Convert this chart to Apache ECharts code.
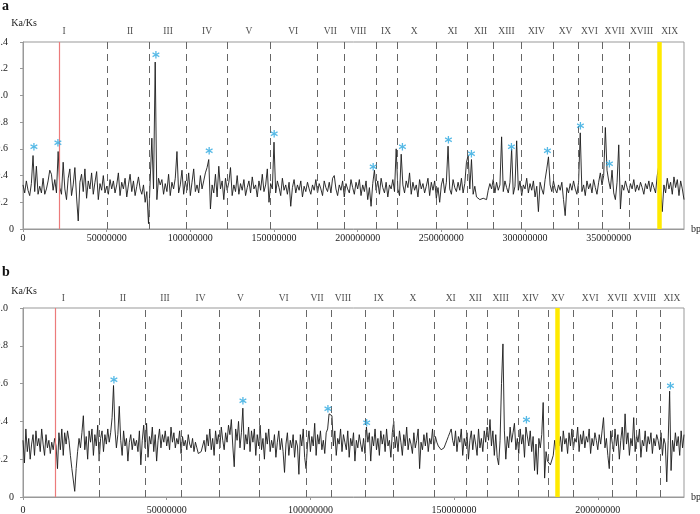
<!DOCTYPE html>
<html><head><meta charset="utf-8">
<script src="https://cdn.jsdelivr.net/npm/echarts@6/dist/echarts.min.js"></script>
<style>html,body{margin:0;padding:0;background:#fff}#c{width:700px;height:514px}</style>
</head><body><div id="c"></div>
<script>
// ---------- DATA ----------
// Panel a: Ka/Ks per 1 Mbp window (window start in Mbp = index)
const WINDOW_A_MBP = 1;
const kaksA = [
0.33,0.27,0.36,0.29,0.25,0.34,0.55,0.28,0.47,0.26,
0.32,0.27,0.38,0.26,0.30,0.36,0.44,0.41,0.29,0.37,
0.27,0.58,0.31,0.26,0.50,0.30,0.22,0.38,0.45,0.25,
0.33,0.46,0.24,0.06,0.35,0.41,0.28,0.45,0.23,0.36,
0.30,0.42,0.26,0.35,0.43,0.22,0.34,0.29,0.40,0.27,
0.32,0.26,0.37,0.30,0.36,0.27,0.33,0.42,0.25,0.35,
0.30,0.38,0.24,0.33,0.41,0.28,0.36,0.25,0.32,0.39,
0.30,0.26,0.33,0.20,0.28,0.04,0.36,0.68,0.30,1.25,
0.22,0.38,0.33,0.37,0.26,0.34,0.28,0.41,0.25,0.35,
0.30,0.38,0.58,0.27,0.33,0.44,0.26,0.36,0.29,0.42,
0.25,0.35,0.45,0.28,0.33,0.27,0.40,0.30,0.36,0.42,
0.46,0.52,0.15,0.33,0.27,0.41,0.24,0.47,0.30,0.36,
0.22,0.38,0.29,0.35,0.46,0.25,0.33,0.28,0.40,0.26,
0.34,0.29,0.37,0.25,0.31,0.36,0.27,0.39,0.30,0.33,
0.24,0.36,0.29,0.41,0.28,0.33,0.45,0.20,0.34,0.30,
0.65,0.27,0.36,0.31,0.25,0.38,0.29,0.33,0.26,0.35,
0.17,0.31,0.37,0.27,0.33,0.29,0.36,0.24,0.32,0.28,
0.35,0.30,0.26,0.33,0.29,0.37,0.27,0.34,0.30,0.25,
0.36,0.31,0.28,0.35,0.27,0.38,0.40,0.30,0.25,0.33,
0.29,0.36,0.24,0.34,0.30,0.27,0.37,0.31,0.26,0.35,
0.30,0.37,0.25,0.33,0.28,0.36,0.22,0.31,0.17,0.34,
0.44,0.29,0.36,0.26,0.38,0.31,0.27,0.35,0.24,0.33,
0.30,0.37,0.28,0.60,0.30,0.25,0.56,0.33,0.27,0.36,
0.31,0.42,0.26,0.35,0.29,0.33,0.24,0.37,0.30,0.34,
0.27,0.32,0.38,0.25,0.35,0.29,0.36,0.23,0.31,0.20,
0.33,0.38,0.27,0.35,0.62,0.30,0.26,0.37,0.31,0.28,
0.35,0.29,0.38,0.27,0.34,0.50,0.55,0.30,0.52,0.26,
0.32,0.24,0.23,0.22,0.22,0.23,0.24,0.22,0.29,0.34,
0.30,0.37,0.27,0.35,0.29,0.33,0.69,0.28,0.36,0.31,
0.27,0.35,0.60,0.26,0.32,0.66,0.29,0.36,0.25,0.33,
0.30,0.38,0.27,0.34,0.29,0.36,0.24,0.32,0.13,0.35,
0.30,0.26,0.37,0.45,0.54,0.33,0.28,0.36,0.30,0.27,
0.33,0.29,0.35,0.22,0.10,0.31,0.27,0.34,0.29,0.36,
0.30,0.26,0.35,0.72,0.28,0.33,0.25,0.36,0.30,0.34,
0.27,0.37,0.31,0.26,0.35,0.42,0.33,0.40,0.76,0.44,
0.36,0.30,0.44,0.27,0.22,0.35,0.63,0.15,0.33,0.29,
0.36,0.31,0.27,0.34,0.30,0.37,0.28,0.33,0.29,0.35,
0.31,0.26,0.34,0.30,0.36,0.28,0.35,0.31,0.27,0.40,
0.48,0.30,0.13,0.33,0.27,0.38,0.30,0.35,0.26,0.39,
0.31,0.37,0.25,0.36,0.30,0.22
];
// Panel b: Ka/Ks per 0.5 Mbp window
const WINDOW_B_MBP = 0.5;
const kaksB = [
0.30,0.18,0.36,0.24,0.31,0.20,0.28,0.33,0.22,0.35,0.27,0.31,0.24,0.36,0.28,0.22,0.33,0.26,0.30,0.23,
0.29,0.25,0.31,0.27,0.15,0.34,0.25,0.36,0.22,0.34,0.28,0.35,0.30,0.22,0.15,0.09,0.03,0.15,0.24,0.31,
0.26,0.34,0.43,0.25,0.32,0.20,0.35,0.29,0.36,0.22,0.33,0.27,0.38,0.19,0.31,0.35,0.24,0.33,0.28,0.36,
0.29,0.34,0.42,0.59,0.36,0.26,0.33,0.48,0.30,0.22,0.35,0.27,0.31,0.19,0.29,0.33,0.25,0.31,0.27,0.30,
0.24,0.35,0.17,0.30,0.38,0.26,0.39,0.21,0.32,0.28,0.37,0.24,0.33,0.19,0.30,0.36,0.26,0.33,0.29,0.35,
0.27,0.32,0.25,0.37,0.29,0.34,0.26,0.31,0.28,0.35,0.23,0.32,0.27,0.30,0.25,0.33,0.28,0.26,0.31,0.24,
0.29,0.26,0.23,0.22,0.24,0.27,0.30,0.24,0.33,0.27,0.36,0.25,0.31,0.22,0.35,0.28,0.33,0.26,0.37,0.30,
0.25,0.34,0.29,0.38,0.33,0.41,0.27,0.16,0.36,0.30,0.40,0.26,0.34,0.47,0.25,0.33,0.28,0.37,0.24,0.35,
0.29,0.36,0.22,0.33,0.27,0.38,0.25,0.31,0.20,0.34,0.28,0.36,0.24,0.30,0.26,0.33,0.21,0.29,0.35,0.25,
0.31,0.24,0.13,0.28,0.34,0.22,0.30,0.26,0.33,0.21,0.30,0.27,0.12,0.33,0.27,0.36,0.21,0.15,0.28,0.35,
0.24,0.32,0.27,0.39,0.22,0.33,0.28,0.35,0.25,0.30,0.23,0.34,0.36,0.44,0.44,0.43,0.27,0.35,0.22,0.31,
0.28,0.36,0.24,0.33,0.29,0.25,0.35,0.21,0.31,0.27,0.34,0.19,0.30,0.26,0.33,0.28,0.24,0.31,0.23,0.37,
0.29,0.34,0.19,0.32,0.27,0.36,0.25,0.31,0.22,0.35,0.28,0.33,0.24,0.36,0.27,0.30,0.21,0.34,0.40,0.26,
0.32,0.24,0.35,0.29,0.22,0.33,0.27,0.37,0.25,0.31,0.28,0.23,0.34,0.26,0.30,0.36,0.15,0.29,0.25,0.33,
0.27,0.34,0.24,0.31,0.28,0.36,0.25,0.32,0.29,0.27,0.26,0.25,0.24,0.26,0.28,0.30,0.32,0.34,0.36,0.30,
0.27,0.35,0.24,0.32,0.29,0.36,0.22,0.31,0.27,0.34,0.20,0.30,0.35,0.25,0.33,0.28,0.22,0.36,0.26,0.31,
0.24,0.35,0.29,0.37,0.30,0.41,0.27,0.35,0.22,0.33,0.21,0.17,0.30,0.60,0.81,0.35,0.20,0.32,0.26,0.37,
0.29,0.34,0.39,0.25,0.31,0.23,0.36,0.28,0.33,0.21,0.37,0.38,0.27,0.35,0.24,0.32,0.14,0.28,0.12,0.31,
0.26,0.33,0.50,0.10,0.24,0.19,0.18,0.17,0.18,0.22,0.30,0.25,0.33,0.27,0.32,0.24,0.35,0.28,0.31,0.23,
0.34,0.27,0.36,0.25,0.31,0.29,0.37,0.24,0.33,0.28,0.35,0.26,0.32,0.29,0.36,0.23,0.31,0.27,0.34,0.30,
0.25,0.33,0.28,0.35,0.42,0.26,0.31,0.22,0.15,0.35,0.29,0.24,0.36,0.27,0.33,0.20,0.30,0.37,0.25,0.44,
0.28,0.34,0.22,0.31,0.27,0.42,0.24,0.33,0.29,0.36,0.21,0.30,0.27,0.35,0.24,0.32,0.28,0.34,0.23,0.31,
0.27,0.33,0.30,0.25,0.34,0.22,0.31,0.28,0.08,0.30,0.56,0.14,0.30,0.24,0.34,0.27,0.32,0.22,0.35,0.26,
0.33
];
const chromNames = ['I','II','III','IV','V','VI','VII','VIII','IX','X','XI','XII','XIII','XIV','XV','XVI','XVII','XVIII','XIX'];
// chromosome label centres (Mbp)
const labelPosA = [24.5,64,86.7,110,135,161.5,183.6,200.3,217,233.8,256.6,273.4,288.9,306.8,324.2,338.5,353.5,369.6,386.4];
const labelPosB = [14.0,34.8,49.4,61.8,75.7,90.7,102.3,111.3,123.8,135.7,148.8,157.4,166.2,176.6,186.1,197.4,206.8,216.3,225.8];
// chromosome boundaries (Mbp)
const boundsA = [50.2,75.5,97.7,122.2,147.7,176,192,211.1,223.9,246.8,265.4,281.3,297.7,316.6,331.8,346.1,362.4];
const boundsB = [26.4,42.7,55.0,68.3,82.3,98.7,107.1,119.2,128.8,143.0,154.1,161.4,172.2,182.9,191.6,204.9,213.4,221.7];
const redLineA = 21.4, yellowLineA = 380;
const redLineB = 11.1, yellowLineB = 186;
// significant windows (Mbp, Ka/Ks)
const starsA = [[6.6,0.605],[20.9,0.635],[79.5,1.293],[111.2,0.575],[150.1,0.70],[209.3,0.455],[226.7,0.605],[254.2,0.658],[267.9,0.553],[291.9,0.605],[313.4,0.575],[333.1,0.762],[350.5,0.478]];
const starsB = [[31.6,0.615],[76.5,0.504],[106.1,0.462],[119.6,0.388],[175.2,0.404],[225.3,0.579]];
const xMaxA = 395, xMaxB = 230;

// ---------- CHART ----------
const MB = 1e6;
const SERIF = '"Liberation Serif","Times New Roman",serif';
const chart = echarts.init(document.getElementById('c'), null, {renderer:'canvas'});

function vLines(bounds, red, yellow){
  const d = bounds.map(b => ({xAxis: b*MB, lineStyle:{color:'#666', width:1, type:[7,5]}}));
  d.push({xAxis: red*MB, lineStyle:{color:'#ec7b7b', width:1.2, type:'solid'}});
  d.push({xAxis: yellow*MB, lineStyle:{color:'#ffea00', width:4.5, type:'solid'}});
  return d;
}
function yAxisCfg(idx, max){
  return {
    type:'value', gridIndex: idx, min:0, max:max, interval:0.2,
    name:'Ka/Ks', nameLocation:'end', nameGap: idx===0?14:12,
    nameTextStyle:{fontFamily:SERIF, fontSize:10, color:'#222', align:'center', verticalAlign:'bottom', padding:[0,0,0,2]},
    axisLine:{show:true, lineStyle:{color:'#999'}},
    axisTick:{show:true, length:3, lineStyle:{color:'#999'}},
    splitLine:{show:false},
    axisLabel:{margin:9, fontFamily:SERIF, fontSize:10, color:'#222',
      formatter: v => v===0 ? '{z|0}' : '{d|'+v.toFixed(1)+'}',
      rich:{z:{fontFamily:SERIF,fontSize:10,color:'#222'}, d:{fontFamily:SERIF,fontSize:10,color:'#222',padding:[0,6,0,0]}}}
  };
}
function xAxisCfg(idx, max, margin){
  return {
    type:'value', gridIndex: idx, min:0, max:max*MB, interval:50*MB,
    name:'bp', nameLocation:'end', nameGap:7,
    nameTextStyle:{fontFamily:SERIF, fontSize:10, color:'#222', align:'left', verticalAlign:'middle'},
    axisLine:{show:true, lineStyle:{color:'#999'}},
    axisTick:{show:true, length:3, lineStyle:{color:'#999'}},
    splitLine:{show:false},
    axisLabel:{margin:margin, fontFamily:SERIF, fontSize:10, color:'#222', showMaxLabel:false,
      formatter: v => String(Math.round(v))}
  };
}
function lineSeries(idx, vals, step){
  return {type:'line', xAxisIndex:idx, yAxisIndex:idx, z:3, showSymbol:false, symbol:'none',
    data: vals.map((v,i) => [i*step*MB, v]),
    lineStyle:{color:'#1a1a1a', width:0.9}, animation:false, silent:true};
}
function markSeries(idx, bounds, red, yellow){
  return {type:'line', xAxisIndex:idx, yAxisIndex:idx, z:1, data:[], animation:false, silent:true,
    markLine:{silent:true, symbol:['none','none'], label:{show:false}, animation:false, data:vLines(bounds, red, yellow)}};
}
function chromSeries(idx, pos, top, dist){
  return {type:'scatter', xAxisIndex:idx, yAxisIndex:idx, z:4, clip:false, symbolSize:0, silent:true, animation:false,
    data: pos.map((p,i) => ({value:[p*MB, top], name:chromNames[i]})),
    label:{show:true, position:'top', distance:dist, formatter: p => p.name, fontFamily:SERIF, fontSize:9.5, color:'#222'}};
}
function starSeries(idx, stars){
  return {type:'scatter', xAxisIndex:idx, yAxisIndex:idx, z:5, symbolSize:0, silent:true, animation:false,
    data: stars.map(s => [s[0]*MB, s[1]]),
    label:{show:true, position:'inside', offset:[0,3], formatter:'*', fontFamily:'"DejaVu Sans",sans-serif', fontWeight:'bold', fontSize:15, color:'#2aa7e0'}};
}

chart.setOption({
  backgroundColor:'#fff',
  animation:false,
  grid:[
    {left:23, top:42, right:16, height:187, containLabel:false, outerBoundsMode:'none', show:true, borderColor:'#999', borderWidth:1, backgroundColor:'transparent'},
    {left:23, top:308, right:16, height:189, containLabel:false, outerBoundsMode:'none', show:true, borderColor:'#999', borderWidth:1, backgroundColor:'transparent'}
  ],
  xAxis:[xAxisCfg(0, xMaxA, 4), xAxisCfg(1, xMaxB, 8)],
  yAxis:[yAxisCfg(0, 1.4), yAxisCfg(1, 1.0)],
  graphic:[
    {type:'text', left:2, top:-1, style:{text:'a', font:'bold 14px '+SERIF, fill:'#111'}},
    {type:'text', left:2, top:265, style:{text:'b', font:'bold 14px '+SERIF, fill:'#111'}}
  ],
  series:[
    markSeries(0, boundsA, redLineA, yellowLineA),
    lineSeries(0, kaksA, WINDOW_A_MBP),
    chromSeries(0, labelPosA, 1.4, 6),
    starSeries(0, starsA),
    markSeries(1, boundsB, redLineB, yellowLineB),
    lineSeries(1, kaksB, WINDOW_B_MBP),
    chromSeries(1, labelPosB, 1.0, 5),
    starSeries(1, starsB)
  ]
});
</script></body></html>
